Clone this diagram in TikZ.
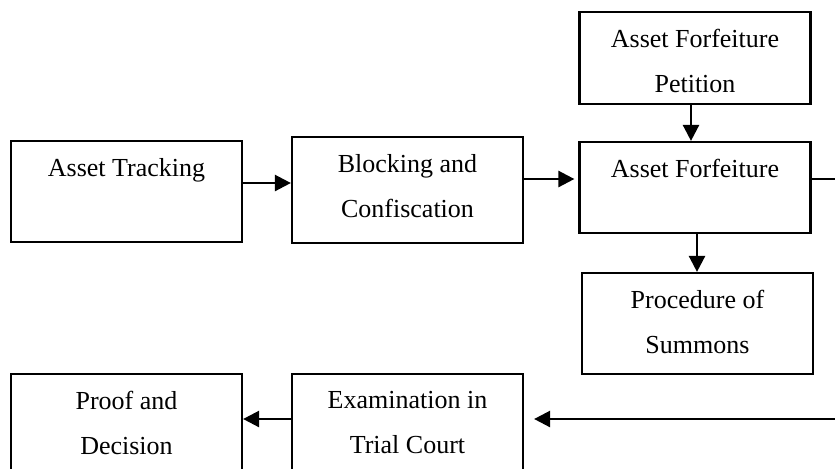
\documentclass[tikz,border=0pt]{standalone}
\usepackage{fontspec}
\setmainfont{Liberation Serif}
\usetikzlibrary{arrows.meta}
\begin{document}
\begin{tikzpicture}[x=0.5pt, y=-0.5pt, >={Triangle[length=8pt,width=8pt]},
    every node/.style={font=\fontsize{13}{22.5}\selectfont},
    stage/.style={draw, line width=1.1pt, minimum width=115.5pt, inner sep=0pt},
    caption/.style={anchor=north, align=center, inner sep=0pt, yshift=-9pt},
    flow/.style={->, line width=1.25pt}]

    % --- 1. picture frame ---
    \clip (0,0) rectangle (835,468);

    % --- 2. boxes ---
    \node[stage, minimum height=50.5pt] (track)  at (126.5,191.5) {};
    \node[stage, minimum height=53pt]   (block)  at (407.5,190)   {};
    \node[stage, minimum height=45.5pt] (forf)   at (695,187.5)   {};
    \node[stage, minimum height=46pt]   (pet)    at (695,58)      {};
    \node[stage, minimum height=50.5pt] (summ)   at (697.5,323.5) {};
    \node[stage, minimum height=50pt]   (proof)  at (126.5,424)   {};
    \node[stage, minimum height=50pt]   (exam)   at (407.5,424)   {};

    % --- 3. box texts ---
    \node[caption] (trackT) at (track.north) {Asset Tracking};
    \node[caption] (blockT) at (block.north) {Blocking and\\Confiscation};
    \node[caption] (forfT)  at (forf.north)  {Asset Forfeiture};
    \node[caption] (petT)   at (pet.north)   {Asset Forfeiture\\Petition};
    \node[caption] (summT)  at (summ.north)  {Procedure of\\Summons};
    \node[caption] (proofT) at (proof.north) {Proof and\\Decision};
    \node[caption] (examT)  at (exam.north)  {Examination in\\Trial Court};

    % --- 4. connectors ---
    % upper row
    \draw[flow] ([yshift=4.25pt]track.east) coordinate (t1) -- (t1 -| block.west);
    \draw[flow, shorten >=2pt] ([yshift=5.5pt]block.east) coordinate (b1) -- (b1 -| forf.west);
    \draw[flow] ([xshift=-2pt]pet.south) coordinate (p1) -- (p1 |- forf.north);
    \draw[flow] ([xshift=1pt]forf.south) coordinate (f1) -- (f1 |- summ.north);

    % line running out to the right edge
    \coordinate (outR) at (835,179);
    \draw[line width=1.25pt] (outR -| forf.east) -- (outR);

    % lower row, coming back in from the right edge
    \coordinate (inR) at (835,419);
    \draw[flow, shorten >=5pt] (inR) -- (inR -| exam.east);
    \draw[flow] (inR -| exam.west) -- (inR -| proof.east);

\end{tikzpicture}
\end{document}
